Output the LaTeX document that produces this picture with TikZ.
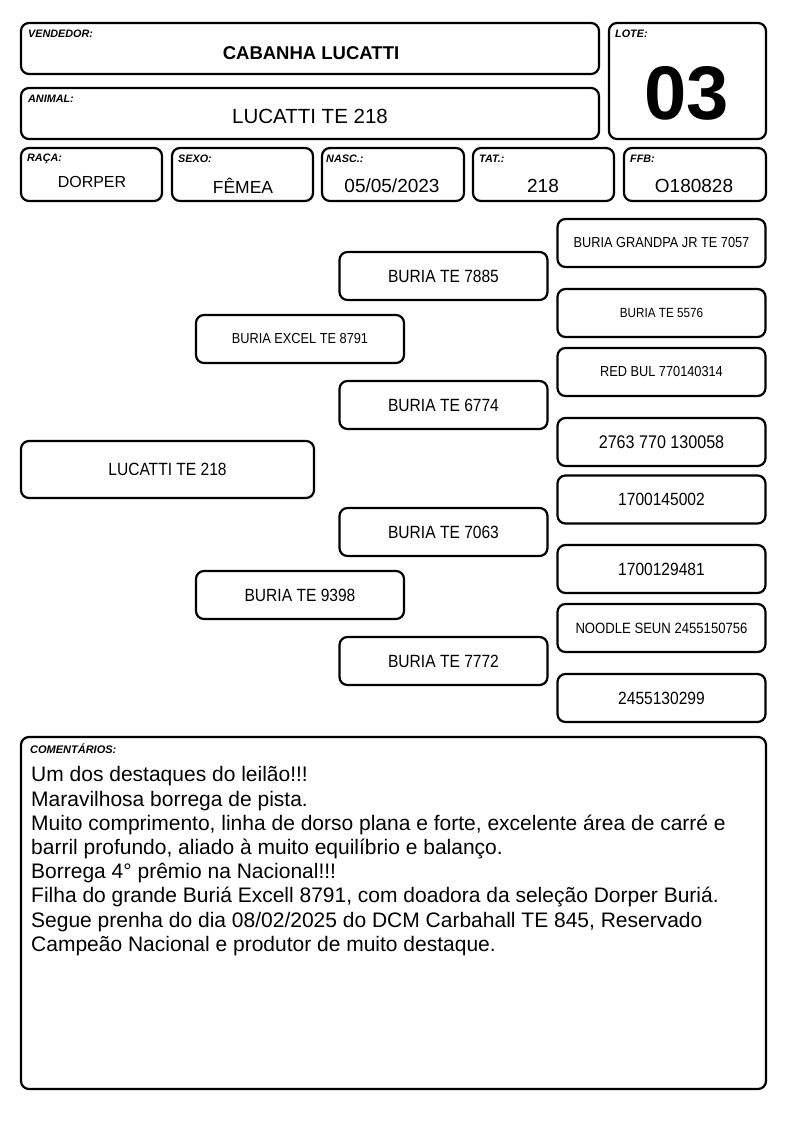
\documentclass[tikz,border=0pt]{standalone}
\usepackage{fontspec}
\setmainfont{Liberation Sans}
\newfontfamily\estreita[FakeStretch=0.88]{Liberation Sans}
\tikzset{
  campo/.style={draw, line width=2.2pt, rounded corners=8pt},
  rotulo/.style={anchor=north west, inner sep=0pt, font=\fontsize{10.8}{12}\selectfont\bfseries\itshape},
  valor/.style={inner sep=0pt, font=\fontsize{16}{18}\selectfont},
  ped/.style={draw, line width=2.2pt, rounded corners=8pt, minimum width=208pt, minimum height=48pt, inner sep=0pt, font=\estreita\fontsize{17.7}{19}\selectfont},
  pedmenor/.style={ped, font=\estreita\fontsize{14.5}{16}\selectfont}
}
\begin{document}
\begin{tikzpicture}[x=1pt, y=-1pt]
\useasboundingbox (0,0) rectangle (794,1123);

% Cabecalho
\draw[campo] (21,23) rectangle (599,74);
\node[rotulo] (lvend) at (28,30) {VENDEDOR:};
\node[valor, font=\fontsize{18.5}{20}\selectfont\bfseries] (vend) at (311,53) {CABANHA LUCATTI};
\draw[campo] (21,88) rectangle (599,139);
\node[rotulo] (lanim) at (28,95) {ANIMAL:};
\node[valor, font=\fontsize{20.5}{22}\selectfont] (anim) at (310,116) {LUCATTI TE 218};
\draw[campo] (609,23) rectangle (766,139);
\node[rotulo] (llote) at (615,30) {LOTE:};
\node[inner sep=0pt, font=\fontsize{76}{80}\selectfont\bfseries] (lote) at (687,93) {03};

% Dados
\draw[campo] (21,148) rectangle (162,201);
\node[rotulo] (lraca) at (27,154) {RAÇA:};
\node[valor] (raca) at (92,182) {DORPER};
\draw[campo] (172,148) rectangle (313,201);
\node[rotulo] (lsexo) at (178,155) {SEXO:};
\node[valor, font=\fontsize{17.5}{19}\selectfont] (sexo) at (243,186) {FÊMEA};
\draw[campo] (322,148) rectangle (464,201);
\node[rotulo] (lnasc) at (326,155) {NASC.:};
\node[valor, font=\fontsize{19}{21}\selectfont] (nasc) at (392,186) {05/05/2023};
\draw[campo] (473,148) rectangle (614,201);
\node[rotulo] (ltat) at (479,155) {TAT.:};
\node[valor, font=\fontsize{19}{21}\selectfont] (tat) at (543,186) {218};
\draw[campo] (624,148) rectangle (766,201);
\node[rotulo] (lffb) at (630,155) {FFB:};
\node[valor, font=\fontsize{19}{21}\selectfont] (ffb) at (694,186) {O180828};

% Genealogia
\node[ped, minimum width=293pt, minimum height=57pt] (animal) at (167.5,469.5) {LUCATTI TE 218};
\node[pedmenor] (pai) at (300,339) {BURIA EXCEL TE 8791};
\node[ped] (mae) at (300,595) {BURIA TE 9398};
\node[ped] (avo1) at (443.5,276) {BURIA TE 7885};
\node[ped] (avo2) at (443.5,405) {BURIA TE 6774};
\node[ped] (avo3) at (443.5,532) {BURIA TE 7063};
\node[ped] (avo4) at (443.5,661) {BURIA TE 7772};
\node[pedmenor] (bis1) at (661.5,243) {BURIA GRANDPA JR TE 7057};
\node[pedmenor, font=\estreita\fontsize{13.3}{15}\selectfont] (bis2) at (661.5,313) {BURIA TE 5576};
\node[pedmenor] (bis3) at (661.5,372) {RED BUL 770140314};
\node[ped, font=\estreita\fontsize{18.3}{20}\selectfont] (bis4) at (661.5,442) {2763 770 130058};
\node[ped] (bis5) at (661.5,499.5) {1700145002};
\node[ped] (bis6) at (661.5,569) {1700129481};
\node[pedmenor, font=\estreita\fontsize{14.9}{16}\selectfont] (bis7) at (661.5,628) {NOODLE SEUN 2455150756};
\node[ped] (bis8) at (661.5,698) {2455130299};

% Comentarios
\draw[campo] (21,737) rectangle (766,1089);
\node[rotulo, font=\fontsize{11}{12}\selectfont\bfseries\itshape] (lcom) at (30,744) {COMENTÁRIOS:};
\node[anchor=north west, inner sep=0pt, align=left, font=\fontsize{21}{24.2}\selectfont] (com) at (31,766.5) {Um dos destaques do leilão!!!\\
Maravilhosa borrega de pista.\\
Muito comprimento, linha de dorso plana e forte, excelente área de carré e\\
barril profundo, aliado à muito equilíbrio e balanço.\\
Borrega 4° prêmio na Nacional!!!\\
Filha do grande Buriá Excell 8791, com doadora da seleção Dorper Buriá.\\
Segue prenha do dia 08/02/2025 do DCM Carbahall TE 845, Reservado\\
Campeão Nacional e produtor de muito destaque.};
\end{tikzpicture}
\end{document}
